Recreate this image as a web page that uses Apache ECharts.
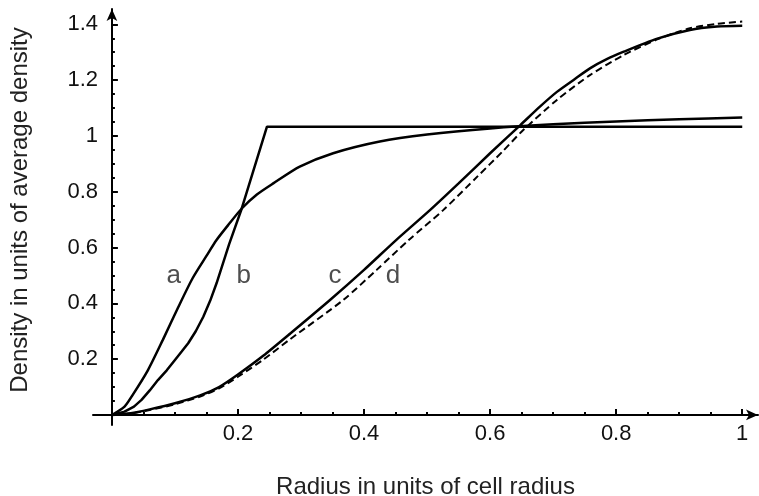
<!DOCTYPE html>
<html>
<head>
<meta charset="utf-8">
<script src="https://cdn.jsdelivr.net/npm/echarts@6/dist/echarts.min.js"></script>
<style>
  html, body { margin: 0; padding: 0; background: #fff; }
  #main { width: 759px; height: 496px; }
</style>
</head>
<body>
<div id="main"></div>
<script>
// curve a
var aX = [0, 0.02, 0.033, 0.057, 0.081, 0.105, 0.128, 0.15, 0.166, 0.186, 0.206, 0.23, 0.256, 0.298, 0.351, 0.425, 0.5, 0.6, 0.7, 0.8, 0.9, 1];
var aY = [0, 0.03, 0.072, 0.16, 0.27, 0.385, 0.49, 0.57, 0.627, 0.685, 0.74, 0.79, 0.83, 0.89, 0.938, 0.98, 1.005, 1.027, 1.042, 1.052, 1.06, 1.066];
// curve b
var bX = [0, 0.02, 0.035, 0.047, 0.06, 0.073, 0.087, 0.1, 0.111, 0.121, 0.133, 0.145, 0.156, 0.166, 0.186, 0.206, 0.246, 1];
var bY = [0, 0.012, 0.03, 0.054, 0.088, 0.125, 0.16, 0.197, 0.228, 0.257, 0.3, 0.352, 0.41, 0.472, 0.612, 0.74, 1.033, 1.033];
// curve c
var cX = [0, 0.03, 0.06, 0.1, 0.14, 0.17, 0.2, 0.24, 0.283, 0.346, 0.4, 0.45, 0.505, 0.55, 0.6, 0.648, 0.679, 0.706, 0.735, 0.759, 0.785, 0.812, 0.864, 0.917, 0.96, 1];
var cY = [0, 0.006, 0.02, 0.042, 0.07, 0.1, 0.145, 0.212, 0.292, 0.412, 0.52, 0.625, 0.735, 0.83, 0.938, 1.039, 1.105, 1.158, 1.205, 1.243, 1.275, 1.302, 1.348, 1.38, 1.392, 1.395];
// curve d (dashed)
var dX = [0, 0.03, 0.06, 0.1, 0.14, 0.17, 0.2, 0.24, 0.283, 0.367, 0.42, 0.47, 0.526, 0.58, 0.62, 0.653, 0.706, 0.759, 0.812, 0.864, 0.917, 0.96, 1];
var dY = [0, 0.005, 0.018, 0.038, 0.066, 0.095, 0.137, 0.198, 0.272, 0.412, 0.52, 0.625, 0.735, 0.855, 0.945, 1.022, 1.129, 1.219, 1.29, 1.345, 1.386, 1.402, 1.41];

// curve letters
var letterNames = ['a', 'b', 'c', 'd'];
var letterX = [0.098, 0.209, 0.354, 0.446];
var letterY = [0.5, 0.5, 0.5, 0.5];

// ticks
var xMajorTicks = [0.2, 0.4, 0.6, 0.8, 1];
var xMinorTicks = [0.05, 0.1, 0.15, 0.25, 0.3, 0.35, 0.45, 0.5, 0.55, 0.65, 0.7, 0.75, 0.85, 0.9, 0.95];
var yMajorTicks = [0.2, 0.4, 0.6, 0.8, 1, 1.2, 1.4];
var yMinorTicks = [0.05, 0.1, 0.15, 0.25, 0.3, 0.35, 0.45, 0.5, 0.55, 0.65, 0.7, 0.75, 0.85, 0.9, 0.95,
                   1.05, 1.1, 1.15, 1.25, 1.3, 1.35];

function pairs(xs, ys) {
  return xs.map(function (x, i) { return [x, ys[i]]; });
}

var font = 'Liberation Sans, Arial, sans-serif';
var black = '#000';

var dom = document.getElementById('main');
var myChart = echarts.init(dom, null, { renderer: 'canvas' });

var option = {
  animation: false,
  backgroundColor: '#fff',
  grid: {
    left: 93, right: 1, top: 9, bottom: 71,
    containLabel: false,
    outerBoundsMode: 'none'
  },
  xAxis: [
    {
      type: 'value', min: -0.03, max: 1.025,
      name: 'Radius in units of cell radius',
      nameLocation: 'middle',
      nameGap: 50,
      nameTextStyle: { fontFamily: font, fontSize: 24, color: '#222' },
      splitLine: { show: false },
      axisLine: {
        onZero: true,
        symbol: ['none', 'arrow'],
        symbolSize: [8, 12],
        lineStyle: { color: black, width: 2 }
      },
      axisTick: { inside: true, length: 6, customValues: xMajorTicks, lineStyle: { color: black, width: 2 } },
      axisLabel: { customValues: xMajorTicks, margin: -2, fontFamily: font, fontSize: 22, color: '#111' }
    },
    {
      type: 'value', min: -0.03, max: 1.025, position: 'bottom',
      splitLine: { show: false },
      axisLine: { show: false, onZero: true, onZeroAxisIndex: 0 },
      axisTick: { inside: true, length: 3, customValues: xMinorTicks, lineStyle: { color: black, width: 2 } },
      axisLabel: { show: false }
    }
  ],
  yAxis: [
    {
      type: 'value', min: -0.036, max: 1.455,
      splitLine: { show: false },
      axisLine: {
        onZero: true,
        symbol: ['none', 'arrow'],
        symbolSize: [8, 12],
        lineStyle: { color: black, width: 2 }
      },
      axisTick: { inside: true, length: 6, customValues: yMajorTicks, lineStyle: { color: black, width: 2 } },
      axisLabel: { customValues: yMajorTicks, margin: -5, fontFamily: font, fontSize: 22, color: '#111' }
    },
    {
      type: 'value', min: -0.036, max: 1.455, position: 'left',
      splitLine: { show: false },
      axisLine: { show: false, onZero: true, onZeroAxisIndex: 0 },
      axisTick: { inside: true, length: 3, customValues: yMinorTicks, lineStyle: { color: black, width: 2 } },
      axisLabel: { show: false }
    }
  ],
  graphic: [
    {
      type: 'text',
      x: 20, y: 210,
      rotation: Math.PI / 2,
      style: {
        text: 'Density in units of average density',
        font: '24px ' + font,
        fill: '#222',
        textAlign: 'center',
        textVerticalAlign: 'middle'
      }
    }
  ],
  series: [
    {
      name: 'a', type: 'line', data: pairs(aX, aY),
      showSymbol: false, smooth: 0.25,
      lineStyle: { color: black, width: 2.5 }
    },
    {
      name: 'b', type: 'line', data: pairs(bX, bY),
      showSymbol: false, smooth: false,
      lineStyle: { color: black, width: 2.5 }
    },
    {
      name: 'c', type: 'line', data: pairs(cX, cY),
      showSymbol: false, smooth: 0.25,
      lineStyle: { color: black, width: 2.5 }
    },
    {
      name: 'd', type: 'line', data: pairs(dX, dY),
      showSymbol: false, smooth: 0.25,
      lineStyle: { color: black, width: 2, type: [7, 4] }
    },
    {
      name: 'letters', type: 'scatter', symbolSize: 0,
      data: letterNames.map(function (n, i) { return { name: n, value: [letterX[i], letterY[i]] }; }),
      label: {
        show: true, position: 'inside',
        formatter: function (p) { return p.name; },
        fontFamily: font, fontSize: 26, color: '#222'
      }
    }
  ]
};

if (option && typeof option === 'object') {
  myChart.setOption(option, true);
}
</script>
</body>
</html>
